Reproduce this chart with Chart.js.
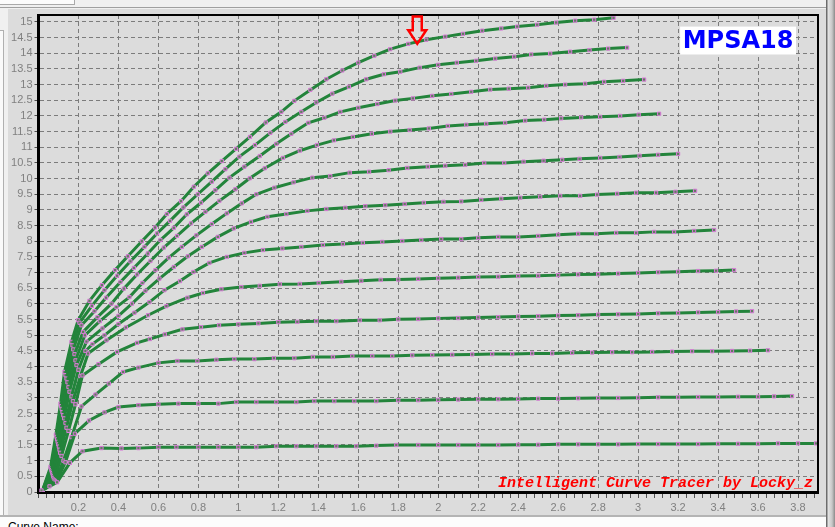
<!DOCTYPE html>
<html>
<head>
<meta charset="utf-8">
<title>MPSA18</title>
<script src="https://cdn.jsdelivr.net/npm/chart.js"></script>
<style>
    html, body { margin: 0; padding: 0; }
    body {
        width: 835px; height: 527px; overflow: hidden; position: relative;
        background: #f0f0f0; font-family: "Liberation Sans", Arial, sans-serif;
    }
    .topbtn { position: absolute; left: -1px; top: -1px; width: 74px; height: 4px; border: 1px solid #a9a9a9; background: #fbfbfb; }
    .topline { position: absolute; left: 0; top: 7px; width: 826px; height: 1px; background: #a0a0a0; }
    .leftbox { position: absolute; left: -1px; top: 30px; width: 3px; height: 484px; border: 1px solid #b0b0b0; background: #fafafa; }
    .panel { position: absolute; left: 8px; top: 9px; width: 818px; height: 506px; background: #dcdcdc; }
    .scroll { position: absolute; left: 826px; top: 0; width: 9px; height: 527px;
              background: linear-gradient(to right, #6c6c6c 0, #6c6c6c 1px, #e4e4e4 2px, #c8c8c8 6px, #8a8a8a 9px); }
    .bottom { position: absolute; left: 0; top: 515px; width: 826px; height: 12px; border-top: 2px solid #b4b4b4; background: #fcfcfc; }
    .bottom span { position: absolute; left: 8px; top: 3px; font-size: 12px; color: #000; }
    .wrap { position: absolute; left: 0; top: 0; width: 835px; height: 527px; }
</style>
</head>
<body>
    <div class="topbtn"></div>
    <div class="topline"></div>
    <div class="leftbox"></div>
    <div class="panel"></div>
    <div class="scroll"></div>
    <div class="bottom"><span>Curve Name:</span></div>
    <div class="wrap"><canvas id="tracer" width="835" height="527"></canvas></div>

<script>
// Ic (mA) vs Vce (V), one array per base current step
const ib1 = [[0.015,0.05],[0.055,0.18],[0.093,0.31],[0.157,0.93],[0.22,1.30],[0.315,1.40],[0.415,1.39],[0.50,1.40],[0.60,1.43],[0.69,1.43],[0.80,1.43],[0.90,1.43],[1.0,1.43],[1.09,1.43],[1.19,1.46],[1.29,1.46],[1.39,1.46],[1.49,1.46],[1.59,1.46],[1.69,1.48],[1.79,1.50],[1.90,1.50],[2.0,1.50],[2.1,1.50],[2.2,1.50],[2.3,1.50],[2.4,1.51],[2.5,1.51],[2.6,1.52],[2.7,1.52],[2.8,1.52],[2.9,1.52],[3.0,1.53],[3.1,1.53],[3.2,1.53],[3.3,1.53],[3.4,1.54],[3.5,1.54],[3.6,1.54],[3.7,1.55],[3.8,1.55],[3.89,1.55]];
const ib2 = [[0.02,0.05],[0.09,0.34],[0.135,0.95],[0.182,1.86],[0.253,2.28],[0.33,2.54],[0.40,2.71],[0.50,2.77],[0.60,2.80],[0.70,2.82],[0.80,2.82],[0.90,2.82],[0.99,2.87],[1.09,2.87],[1.19,2.87],[1.29,2.87],[1.38,2.90],[1.48,2.90],[1.58,2.90],[1.69,2.90],[1.80,2.93],[1.90,2.93],[2.0,2.94],[2.1,2.95],[2.2,2.96],[2.3,2.96],[2.4,2.97],[2.5,2.98],[2.6,2.98],[2.7,2.99],[2.8,3.0],[2.9,3.0],[3.0,3.01],[3.1,3.02],[3.2,3.02],[3.3,3.03],[3.4,3.03],[3.5,3.04],[3.6,3.04],[3.68,3.05],[3.77,3.06]];
const ib3 = [[0.02,0.05],[0.085,0.37],[0.125,1.0],[0.165,1.75],[0.215,2.73],[0.285,3.11],[0.352,3.46],[0.423,3.83],[0.50,3.97],[0.60,4.12],[0.695,4.18],[0.795,4.18],[0.89,4.22],[0.98,4.24],[1.08,4.24],[1.178,4.27],[1.28,4.27],[1.373,4.31],[1.473,4.31],[1.57,4.34],[1.67,4.34],[1.77,4.34],[1.87,4.36],[1.97,4.37],[2.07,4.38],[2.17,4.39],[2.27,4.40],[2.37,4.40],[2.47,4.42],[2.57,4.42],[2.67,4.44],[2.77,4.45],[2.87,4.46],[2.97,4.46],[3.07,4.47],[3.17,4.48],[3.27,4.49],[3.37,4.49],[3.47,4.50],[3.56,4.51],[3.65,4.52]];
const ib4 = [[0.02,0.05],[0.08,0.40],[0.115,1.15],[0.15,1.95],[0.185,2.8],[0.22,3.72],[0.30,4.08],[0.393,4.47],[0.493,4.76],[0.557,4.88],[0.632,5.03],[0.72,5.19],[0.813,5.26],[0.903,5.32],[1.0,5.35],[1.10,5.38],[1.20,5.42],[1.295,5.43],[1.39,5.45],[1.49,5.45],[1.607,5.48],[1.707,5.48],[1.80,5.51],[1.90,5.52],[2.0,5.54],[2.1,5.55],[2.2,5.57],[2.3,5.58],[2.4,5.60],[2.5,5.61],[2.6,5.63],[2.7,5.64],[2.8,5.66],[2.9,5.67],[3.0,5.68],[3.1,5.70],[3.2,5.71],[3.3,5.73],[3.4,5.74],[3.49,5.76],[3.57,5.77]];
const ib5 = [[0.02,0.05],[0.076,0.45],[0.108,1.25],[0.14,2.05],[0.172,2.9],[0.21,3.7],[0.248,4.42],[0.34,4.84],[0.437,5.25],[0.548,5.64],[0.64,5.93],[0.745,6.20],[0.823,6.35],[0.915,6.47],[1.015,6.54],[1.107,6.58],[1.207,6.63],[1.307,6.64],[1.402,6.67],[1.515,6.71],[1.615,6.74],[1.712,6.77],[1.80,6.78],[1.90,6.80],[2.0,6.82],[2.1,6.84],[2.2,6.86],[2.3,6.87],[2.4,6.89],[2.5,6.90],[2.6,6.92],[2.7,6.94],[2.8,6.95],[2.9,6.97],[3.0,6.99],[3.1,7.01],[3.2,7.03],[3.3,7.05],[3.39,7.06],[3.48,7.08]];
const ib6 = [[0.02,0.05],[0.074,0.50],[0.105,1.35],[0.135,2.2],[0.165,3.05],[0.2,3.9],[0.235,4.5],[0.27,4.72],[0.33,5.0],[0.40,5.36],[0.48,5.72],[0.555,6.06],[0.63,6.44],[0.708,6.73],[0.775,7.02],[0.855,7.31],[0.942,7.50],[1.03,7.63],[1.123,7.72],[1.22,7.77],[1.315,7.82],[1.423,7.88],[1.523,7.91],[1.623,7.95],[1.72,7.98],[1.82,8.01],[1.915,8.04],[2.015,8.07],[2.115,8.07],[2.2,8.11],[2.30,8.14],[2.40,8.14],[2.50,8.17],[2.60,8.21],[2.70,8.24],[2.79,8.24],[2.89,8.27],[2.99,8.27],[3.08,8.30],[3.18,8.30],[3.28,8.33],[3.38,8.36]];
const ib7 = [[0.02,0.05],[0.072,0.55],[0.102,1.45],[0.128,2.35],[0.155,3.2],[0.19,4.05],[0.24,4.80],[0.32,5.22],[0.40,5.62],[0.468,6.01],[0.535,6.42],[0.605,6.81],[0.677,7.18],[0.747,7.52],[0.817,7.82],[0.897,8.14],[0.977,8.41],[1.063,8.62],[1.145,8.78],[1.24,8.87],[1.345,8.97],[1.44,9.03],[1.535,9.07],[1.635,9.12],[1.735,9.15],[1.832,9.19],[1.928,9.23],[2.026,9.26],[2.115,9.27],[2.215,9.32],[2.315,9.36],[2.41,9.39],[2.51,9.42],[2.61,9.45],[2.71,9.45],[2.795,9.49],[2.895,9.52],[2.99,9.55],[3.09,9.55],[3.187,9.58],[3.285,9.61]];
const ib8 = [[0.02,0.05],[0.07,0.60],[0.099,1.52],[0.124,2.45],[0.15,3.35],[0.185,4.2],[0.232,5.0],[0.307,5.45],[0.39,5.90],[0.455,6.22],[0.52,6.67],[0.585,7.08],[0.652,7.48],[0.717,7.82],[0.79,8.19],[0.867,8.55],[0.942,8.89],[1.017,9.21],[1.09,9.50],[1.18,9.71],[1.276,9.88],[1.37,10.03],[1.46,10.08],[1.557,10.19],[1.654,10.22],[1.752,10.27],[1.845,10.34],[1.948,10.38],[2.035,10.41],[2.135,10.44],[2.23,10.50],[2.33,10.50],[2.427,10.54],[2.527,10.57],[2.62,10.60],[2.707,10.63],[2.81,10.66],[2.907,10.69],[3.007,10.73],[3.10,10.76],[3.20,10.79]];
const ib9 = [[0.02,0.05],[0.067,0.65],[0.096,1.6],[0.12,2.55],[0.145,3.5],[0.18,4.4],[0.223,5.11],[0.295,5.58],[0.365,6.01],[0.427,6.49],[0.493,6.94],[0.56,7.37],[0.627,7.80],[0.693,8.17],[0.763,8.57],[0.835,8.94],[0.905,9.29],[0.985,9.66],[1.057,10.01],[1.132,10.33],[1.223,10.66],[1.307,10.89],[1.393,11.07],[1.478,11.22],[1.573,11.33],[1.668,11.43],[1.76,11.50],[1.857,11.55],[1.953,11.60],[2.048,11.68],[2.14,11.72],[2.24,11.75],[2.335,11.78],[2.435,11.85],[2.53,11.88],[2.615,11.92],[2.715,11.95],[2.81,11.97],[2.91,12.0],[3.003,12.04],[3.105,12.07]];
const ib10 = [[0.02,0.05],[0.065,0.70],[0.093,1.68],[0.116,2.65],[0.14,3.62],[0.174,4.55],[0.215,5.32],[0.28,5.77],[0.338,6.20],[0.41,6.70],[0.477,7.15],[0.547,7.61],[0.61,8.04],[0.677,8.43],[0.742,8.86],[0.813,9.23],[0.885,9.63],[0.955,10.03],[1.03,10.38],[1.107,10.72],[1.19,11.11],[1.265,11.43],[1.35,11.78],[1.43,11.94],[1.51,12.13],[1.60,12.26],[1.695,12.38],[1.785,12.49],[1.873,12.56],[1.97,12.64],[2.065,12.70],[2.165,12.77],[2.26,12.84],[2.353,12.87],[2.45,12.90],[2.54,12.96],[2.635,13.0],[2.735,13.03],[2.83,13.09],[2.925,13.12],[3.03,13.16]];
const ib11 = [[0.02,0.05],[0.062,0.75],[0.09,1.76],[0.113,2.74],[0.135,3.73],[0.17,4.68],[0.205,5.40],[0.267,5.94],[0.33,6.44],[0.393,6.90],[0.46,7.36],[0.53,7.82],[0.593,8.25],[0.658,8.65],[0.725,9.08],[0.797,9.50],[0.867,9.90],[0.935,10.30],[1.005,10.70],[1.083,11.07],[1.16,11.46],[1.235,11.81],[1.315,12.13],[1.39,12.43],[1.47,12.71],[1.553,12.93],[1.64,13.17],[1.728,13.33],[1.81,13.41],[1.907,13.54],[2.0,13.63],[2.093,13.70],[2.19,13.76],[2.285,13.83],[2.38,13.89],[2.465,13.96],[2.56,13.99],[2.66,14.05],[2.757,14.10],[2.85,14.15],[2.945,14.18]];
const ib12 = [[0.02,0.05],[0.06,0.80],[0.087,1.83],[0.11,2.82],[0.13,3.83],[0.165,4.79],[0.198,5.48],[0.255,6.10],[0.317,6.60],[0.383,7.08],[0.447,7.52],[0.517,8.00],[0.583,8.44],[0.642,8.87],[0.713,9.28],[0.777,9.74],[0.847,10.17],[0.917,10.56],[0.988,10.95],[1.058,11.33],[1.137,11.79],[1.215,12.13],[1.28,12.48],[1.36,12.83],[1.44,13.17],[1.52,13.45],[1.60,13.70],[1.68,13.92],[1.76,14.13],[1.85,14.30],[1.94,14.43],[2.035,14.53],[2.124,14.62],[2.22,14.72],[2.315,14.79],[2.395,14.85],[2.495,14.91],[2.59,14.98],[2.685,15.04],[2.78,15.07],[2.877,15.13]];

const curves = [ib1, ib2, ib3, ib4, ib5, ib6, ib7, ib8, ib9, ib10, ib11, ib12];

// axis ranges / tick steps
const vceRange = [0, 3.9];
const icRange = [0, 15.22];
const vceLabelStep = 0.2;
const vceMinorStep = 0.04;
const icStep = 0.5;

// texts
const deviceName = 'MPSA18';
const credit = 'Intelligent Curve Tracer by Locky_z';
const markerVce = 1.895;   // where the red arrow points
const markerIc = 14.3;

const isStep = (v, s) => Math.abs(v / s - Math.round(v / s)) < 1e-6;
const fmt = v => String(+v.toFixed(2));

const datasets = curves.map(c => ({
    data: c.map(p => ({ x: p[0], y: p[1] })),
    showLine: true,
    borderColor: '#23843b',
    borderWidth: 3,
    pointStyle: 'rect',
    pointRadius: 2.3,
    pointBorderWidth: 1,
    pointBorderColor: '#d97ad9',
    pointBackgroundColor: '#5f7f5f',
    tension: 0
}));

// frame, device tag, credit line and arrow
const decor = {
    id: 'decor',
    afterDatasetsDraw(chart) {
        const { ctx, chartArea: a, scales: { x, y } } = chart;
        ctx.save();

        ctx.strokeStyle = '#000';
        ctx.lineWidth = 2;
        ctx.beginPath();
        ctx.moveTo(a.left, a.top);
        ctx.lineTo(a.right, a.top);
        ctx.lineTo(a.right, a.bottom);
        ctx.stroke();

        // white tag box, upper right
        const bx0 = x.getPixelForValue(3.21), bx1 = x.getPixelForValue(3.79);
        const by0 = y.getPixelForValue(14.85), by1 = y.getPixelForValue(13.96);
        ctx.fillStyle = '#fff';
        ctx.fillRect(bx0, by0, bx1 - bx0, by1 - by0);
        ctx.fillStyle = '#0000ff';
        ctx.font = 'bold 24px "DejaVu Sans"';
        ctx.textAlign = 'center';
        ctx.textBaseline = 'middle';
        ctx.fillText(deviceName, (bx0 + bx1) / 2, (by0 + by1) / 2 + 1);

        ctx.fillStyle = '#ff0000';
        ctx.font = 'italic bold 15px "Liberation Mono"';
        ctx.textAlign = 'right';
        ctx.fillText(credit, a.right - 5, a.bottom - 9);

        // hollow down arrow
        const cx = x.getPixelForValue(markerVce);
        const tip = y.getPixelForValue(markerIc);
        const t = a.top + 1.5;
        const neck = t + (tip - t) / 2;
        ctx.strokeStyle = '#ff0000';
        ctx.lineWidth = 2.5;
        ctx.beginPath();
        ctx.moveTo(cx - 4.5, t);
        ctx.lineTo(cx + 4.5, t);
        ctx.lineTo(cx + 4.5, neck);
        ctx.lineTo(cx + 9, neck);
        ctx.lineTo(cx, tip);
        ctx.lineTo(cx - 9, neck);
        ctx.lineTo(cx - 4.5, neck);
        ctx.closePath();
        ctx.stroke();

        ctx.restore();
    }
};

const tickFont = { family: 'Liberation Sans', size: 11 };

new Chart(document.getElementById('tracer'), {
    type: 'scatter',
    data: { datasets },
    plugins: [decor],
    options: {
        responsive: false,
        animation: false,
        layout: { padding: { left: 0, top: 15, right: 17, bottom: 0 } },
        plugins: { legend: { display: false }, tooltip: { enabled: false } },
        scales: {
            x: {
                type: 'linear',
                min: vceRange[0], max: vceRange[1],
                afterFit: s => { s.height = 35; },
                ticks: {
                    stepSize: vceMinorStep,
                    autoSkip: false,
                    includeBounds: false,
                    maxRotation: 0,
                    padding: 3,
                    color: '#808080',
                    font: tickFont,
                    callback: v => (v > 0.01 && isStep(v, vceLabelStep)) ? fmt(v) : ''
                },
                grid: {
                    color: c => (c.tick && c.tick.value > 0.01 && isStep(c.tick.value, vceLabelStep)) ? '#7c7c7c' : 'rgba(0,0,0,0)',
                    tickColor: '#505050',
                    tickLength: 6,
                    lineWidth: 1
                },
                border: { display: true, color: '#000', width: 3, dash: [4, 3] }
            },
            y: {
                type: 'linear',
                min: icRange[0], max: icRange[1],
                afterFit: s => { s.width = 38.5; },
                ticks: {
                    stepSize: icStep,
                    autoSkip: false,
                    includeBounds: false,
                    padding: 2,
                    color: '#808080',
                    font: tickFont,
                    callback: v => fmt(v)
                },
                grid: {
                    color: c => (c.tick && c.tick.value > 0.01) ? '#7c7c7c' : 'rgba(0,0,0,0)',
                    tickColor: '#505050',
                    tickLength: 4,
                    lineWidth: 1
                },
                border: { display: true, color: '#000', width: 3, dash: [4, 3] }
            }
        }
    }
});
</script>
</body>
</html>
